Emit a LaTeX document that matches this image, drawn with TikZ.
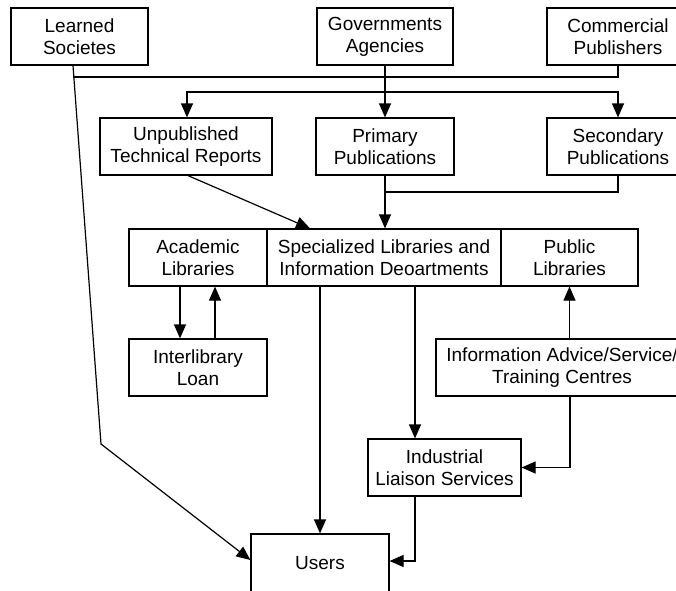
\documentclass[tikz,border=0pt]{standalone}
\usepackage{fontspec}
\setmainfont{Liberation Sans}
\usetikzlibrary{arrows.meta,calc}

\begin{document}
\begin{tikzpicture}[x=1pt, y=-1pt, >={Triangle[length=14pt,width=12pt]}, line width=1.2pt]
	\tikzstyle{block} = [rectangle, minimum height=57pt, inner sep=0pt, align=center, text centered, draw=black, font=\fontsize{19}{22}\selectfont]
	\clip (0, 0) rectangle (676, 590);
	% sources
	\node (learned)[block, minimum width=137pt] at (79.5, 36.5) {Learned\\Societes};
	\node (govern)[block, minimum width=136pt] at (385, 36.5) {Governments\\Agencies};
	\node (commercial)[block, minimum width=142pt] at (618, 36.5) {Commercial\\Publishers};
	% publications
	\node (unpub)[block, minimum width=172pt] at (186, 146.5) {Unpublished\\Technical Reports};
	\node (primary)[block, minimum width=138pt] at (385, 146.5) {Primary\\Publications};
	\node (secondary)[block, minimum width=142pt] at (618, 146.5) {Secondary\\Publications};
	% libraries
	\node (academic)[block, minimum width=138pt] at (198, 257.5) {Academic\\Libraries};
	\node (special)[block, minimum width=234pt] at (384, 257.5) {Specialized Libraries and\\Information Deoartments};
	\node (public)[block, minimum width=137pt] at (569.5, 257.5) {Public\\Libraries};
	\node (interlib)[block, minimum width=138pt] at (198, 367.5) {Interlibrary\\Loan};
	\node (infoadv)[block, minimum width=252pt] at (562, 367.5) {Information Advice/Service/\\Training Centres};
	\node (industrial)[block, minimum width=153pt] at (444.5, 467.5) {Industrial\\Liaison Services};
	\node (users)[block, minimum width=138pt, minimum height=58pt] at (320, 563) {Users};
	% bends
	\coordinate (busL) at (73, 77);
	\coordinate (busM) at (385, 92);
	\coordinate (joinP) at (385, 192);
	\coordinate (kink) at (101, 444);
	\draw (commercial.south) |- (busL);
	\draw [->] (govern) -- (primary);
	\draw [->] (busM) -| ([xshift=1pt]unpub.north);
	\draw [->] (busM) -| (secondary.north);
	\draw [->] ([xshift=-6.5pt]learned.south) -- (kink) -- ([yshift=3pt]users.west);
	\draw [->] ([xshift=2pt]unpub.south) -- ([xshift=-74pt]special.north);
	\draw [->] (primary.south) -- (primary.south |- special.north);
	\draw (secondary.south) |- (joinP);
	\draw [->] ([xshift=-18pt]academic.south) -- ([xshift=-18pt]interlib.north);
	\draw [->] ([xshift=17pt]interlib.north) -- ([xshift=17pt]academic.south);
	\draw [->] (users.north |- special.south) -- (users.north);
	\draw [->] ([xshift=31pt]special.south) -- ([xshift=-29.5pt]industrial.north);
	\draw [->] (public.south |- infoadv.north) -- (public.south);
	\draw [->] ([xshift=8pt]infoadv.south) |- (industrial.east);
	\draw [->] ([xshift=-29.5pt]industrial.south) |- ([yshift=2pt]users.east);
\end{tikzpicture}
\end{document}
